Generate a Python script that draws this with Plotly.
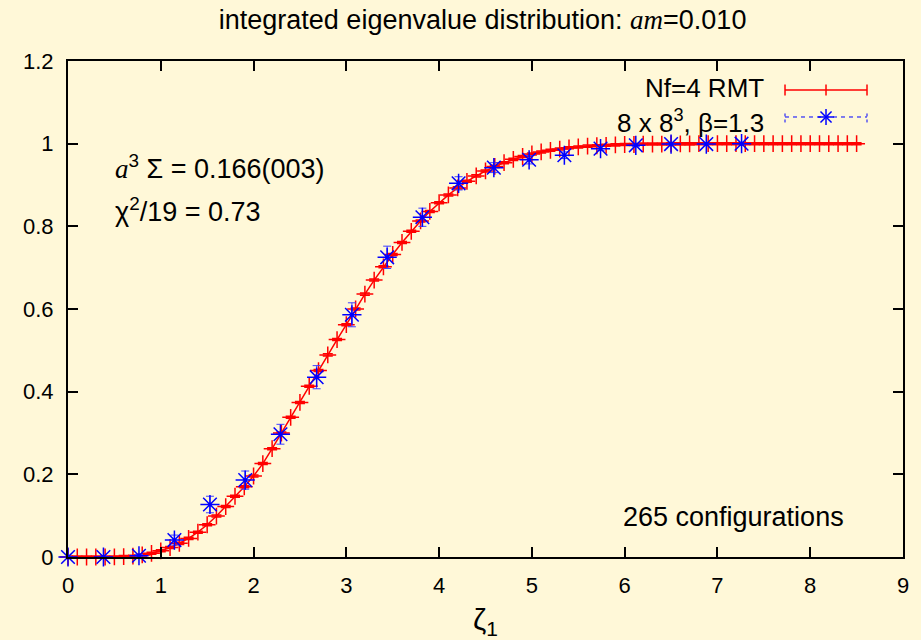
import plotly.graph_objects as go

# RMT prediction (Nf=4), x step 0.1 from 0 to 8.5
rmt_x = [round(0.1 * i, 1) for i in range(86)]
rmt_y = [0, 0, 0, 0, 0, 0.0002, 0.001, 0.002, 0.005, 0.009,
         0.015, 0.023, 0.033, 0.045, 0.060, 0.078, 0.099, 0.122, 0.147, 0.170,
         0.196, 0.226, 0.262, 0.300, 0.338, 0.374, 0.413, 0.451, 0.489, 0.526,
         0.562, 0.600, 0.636, 0.670, 0.702, 0.732, 0.761, 0.788, 0.813, 0.836,
         0.857, 0.876, 0.893, 0.909, 0.922, 0.934, 0.945, 0.954, 0.962, 0.969,
         0.975, 0.980, 0.984, 0.987, 0.990, 0.992, 0.994, 0.995, 0.996, 0.997,
         0.998, 0.998, 0.999, 0.999, 0.999, 0.9995, 0.9995, 0.9995, 1.0, 1.0,
         1.0, 1.0, 1.0, 1.0, 1.0, 1.0, 1.0, 1.0, 1.0, 1.0,
         1.0, 1.0, 1.0, 1.0, 1.0, 1.0]

# Lattice data 8 x 8^3, beta=1.3
lat_x = [0, 0.382, 0.765, 1.147, 1.53, 1.91, 2.29, 2.68, 3.06, 3.44,
         3.82, 4.21, 4.59, 4.97, 5.35, 5.74, 6.12, 6.50, 6.88, 7.26]
lat_y = [0, 0, 0.003, 0.041, 0.127, 0.186, 0.297, 0.435, 0.586, 0.725,
         0.822, 0.904, 0.942, 0.961, 0.972, 0.988, 0.996, 0.999, 0.999, 1.0]
lat_err = [0, 0, 0.003, 0.012, 0.020, 0.022, 0.024, 0.028, 0.029, 0.027,
           0.022, 0.016, 0.012, 0.010, 0.008, 0.005, 0.003, 0.001, 0, 0]

x_ticks = [0, 1, 2, 3, 4, 5, 6, 7, 8, 9]
y_ticks = [0, 0.2, 0.4, 0.6, 0.8, 1.0, 1.2]

legend_labels = ["Nf=4 RMT", "8 x 8<sup>3</sup>, β=1.3"]

BG = "#fff8d8"
FONT = "Liberation Sans"
RED = "#ff0000"
BLUE = "#0000ff"

fig = go.Figure()

fig.add_trace(go.Scatter(
    x=rmt_x, y=rmt_y, mode="lines+markers", name=legend_labels[0],
    line=dict(color=RED, width=1.5),
    marker=dict(symbol="cross-thin", size=12, color=RED,
                line=dict(color=RED, width=1.5)),
    error_y=dict(type="constant", value=0.0025, width=5, thickness=1.5,
                 color=RED),
    cliponaxis=False, showlegend=False,
))

fig.add_trace(go.Scatter(
    x=lat_x, y=lat_y, mode="markers", name=legend_labels[1],
    marker=dict(symbol="asterisk-open", size=16, color=BLUE,
                line=dict(color=BLUE, width=1.5)),
    error_y=dict(type="data", array=lat_err, visible=True, width=4,
                 thickness=1, color="#4040ff"),
    cliponaxis=False, showlegend=False,
))

serif = "font-family:'Liberation Serif'"
TXT = dict(family=FONT, size=27, color="black")
KEY = dict(family=FONT, size=26, color="black")
fig.add_annotation(x=0.485, y=0.944, xref="x", yref="y", xanchor="left",
                   text=f"<span style=\"{serif}\"><i>a</i></span><sup>3</sup> Σ = 0.166(003)",
                   showarrow=False, font=TXT)
fig.add_annotation(x=0.485, y=0.84, xref="x", yref="y", xanchor="left",
                   text="χ<sup>2</sup>/19 = 0.73",
                   showarrow=False, font=TXT)
fig.add_annotation(x=8.39, y=0.097, xref="x", yref="y", xanchor="right",
                   text="265 configurations",
                   showarrow=False, font=TXT)

# x-axis title
fig.add_annotation(x=0.5, y=-0.131, xref="paper", yref="paper",
                   xanchor="center", yanchor="middle", text="ζ<sub>1</sub>",
                   showarrow=False, font=dict(family=FONT, size=30, color="black"))

# gnuplot-style key: text right-aligned, sample to the right
key_text_x = 0.836
key_x0, key_xm, key_x1 = 0.8587, 0.9078, 0.9569
key_text_rows = [0.9456, 0.879]
key_rows = [0.9415, 0.8871]
tick_h = 0.011
for lab, ky in zip(legend_labels, key_text_rows):
    fig.add_annotation(x=key_text_x, y=ky, xref="paper", yref="paper",
                       xanchor="right", yanchor="middle", text=lab,
                       showarrow=False, font=KEY)

# red key sample: line with end caps and a central cross
ky = key_rows[0]
fig.add_shape(type="line", xref="paper", yref="paper", x0=key_x0, x1=key_x1, y0=ky, y1=ky,
              line=dict(color=RED, width=1.5))
for kx in (key_x0, key_xm, key_x1):
    fig.add_shape(type="line", xref="paper", yref="paper", x0=kx, x1=kx,
                  y0=ky - tick_h, y1=ky + tick_h, line=dict(color=RED, width=1.5))

# blue key sample: dashed line with dashed end caps and an asterisk
ky = key_rows[1]
fig.add_shape(type="line", xref="paper", yref="paper", x0=key_x0, x1=key_x1, y0=ky, y1=ky,
              line=dict(color=BLUE, width=1, dash="4px,4px"))
for kx in (key_x0, key_x1):
    fig.add_shape(type="line", xref="paper", yref="paper", x0=kx, x1=kx,
                  y0=ky - tick_h, y1=ky + tick_h, line=dict(color=BLUE, width=1, dash="3px,3px"))
ax = 0.0095
ay = 0.016
for dx, dy in ((0, ay), (ax, 0), (ax * 0.7, ay * 0.7), (ax * 0.7, -ay * 0.7)):
    fig.add_shape(type="line", xref="paper", yref="paper",
                  x0=key_xm - dx, x1=key_xm + dx, y0=ky - dy, y1=ky + dy,
                  line=dict(color=BLUE, width=1.5))

axis_common = dict(
    showline=True, linecolor="black", linewidth=2, mirror="allticks",
    ticks="inside", ticklen=10, tickwidth=2, tickcolor="black",
    showgrid=False, zeroline=False, automargin=False,
    tickfont=dict(family=FONT, size=22, color="black"),
)

fig.update_layout(
    width=921, height=640,
    margin=dict(l=68, r=18, t=61, b=83),
    paper_bgcolor=BG, plot_bgcolor=BG,
    title=dict(text=f"integrated eigenvalue distribution: <span style=\"{serif}\"><i>am</i></span>=0.010",
               x=0.524, xanchor="center", y=0.97, yanchor="middle",
               font=dict(family=FONT, size=27, color="black")),
    xaxis=dict(range=[0, 9], tickvals=x_ticks, ticklabelstandoff=8,
               **axis_common),
    yaxis=dict(range=[0, 1.2], tickvals=y_ticks, ticklabelstandoff=8,
               **axis_common),
    showlegend=False,
)

fig.write_html("out.html")
